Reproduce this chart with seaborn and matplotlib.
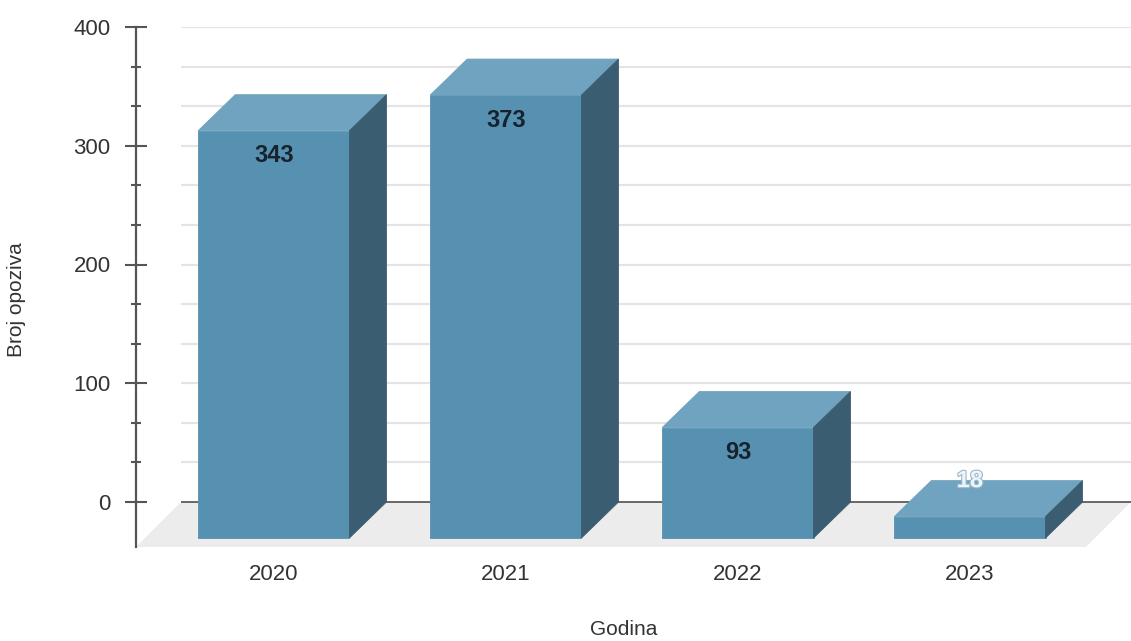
import matplotlib
matplotlib.use("Agg")
import matplotlib.pyplot as plt
from matplotlib.patches import Polygon
from matplotlib.ticker import FixedLocator
import matplotlib.patheffects as pe
import numpy as np
import seaborn as sns

# Recalls per year
years = ["2020", "2021", "2022", "2023"]
recalls = [343, 373, 93, 18]

sns.set_theme(style="white")
plt.rcParams["font.family"] = ["Liberation Sans", "DejaVu Sans"]

FRONT = "#5791b1"
TOP = "#6fa3bf"
SIDE = "#3b5d71"
FLOOR_C = "#ececec"
GRID_C = "#e4e4e4"
AXIS_C = "#555555"
TEXT_C = "#333333"

W, H, DPI = 1131, 641, 100
fig = plt.figure(figsize=(W / DPI, H / DPI), dpi=DPI)
ax_left, ax_right, ax_bottom, ax_top = 136, 1131, 547, 27
ax = fig.add_axes([ax_left / W, 1 - ax_bottom / H,
                   (ax_right - ax_left) / W, (ax_bottom - ax_top) / H])

# depth of the 3D effect, in pixels
FLOOR_D = 45
BAR_DX, BAR_DY = 37, 36
YMAX = 400

sns.barplot(x=years, y=recalls, color=FRONT, saturation=1, width=0.652,
            edgecolor=FRONT, linewidth=0.6, ax=ax, zorder=3)
bars = list(ax.patches)

n = len(years)
px_y = (ax_bottom - FLOOR_D - ax_top) / YMAX
ylo = -FLOOR_D / px_y
ax.set_ylim(ylo, YMAX)
ax.set_xlim(-0.594, n - 0.5 + FLOOR_D / 231.5)
x0l, x1l = ax.get_xlim()
px_x = (ax_right - ax_left) / (x1l - x0l)
fdx = FLOOR_D / px_x
ddx = BAR_DX / px_x
ddy = BAR_DY / px_y

# floor
ax.add_patch(Polygon([(x0l, ylo), (n - 0.5, ylo), (n - 0.5 + fdx, 0), (x0l + fdx, 0)],
                     closed=True, facecolor=FLOOR_C, edgecolor="none", zorder=1))

# back-wall grid lines
grid_vals = np.arange(0, YMAX + 1, 100 / 3)
ax.hlines(grid_vals[1:], x0l + fdx, x1l, color=GRID_C, lw=1.6, zorder=0.5)
ax.hlines([0], x0l + fdx, x1l, color="#5c5c5c", lw=1.3, zorder=1.5)

# extrude each bar into a box
for patch, v in zip(bars, recalls):
    xa = patch.get_x()
    w = patch.get_width()
    xb = xa + w
    patch.set_y(-ddy)
    patch.set_height(v)
    ax.add_patch(Polygon([(xa, v - ddy), (xb, v - ddy), (xb + ddx, v), (xa + ddx, v)],
                         closed=True, facecolor=TOP, edgecolor=TOP, lw=0.6, zorder=3))
    ax.add_patch(Polygon([(xb, -ddy), (xb, v - ddy), (xb + ddx, v), (xb + ddx, 0)],
                         closed=True, facecolor=SIDE, edgecolor=SIDE, lw=0.6, zorder=3.1))
    xc = xa + w / 2
    if v * px_y > 45:
        ax.annotate(str(v), xy=(xc, v - ddy), xytext=(0, -25 * 72 / DPI),
                    textcoords="offset points", ha="center", va="center",
                    fontsize=17, fontweight="bold", color="#17222d", zorder=5)
    else:
        ax.annotate(str(v), xy=(xc, v), xytext=(0, 0),
                    textcoords="offset points", ha="center", va="center",
                    fontsize=17, fontweight="bold", color="#eef4f8", zorder=5,
                    path_effects=[pe.withStroke(linewidth=1.6, foreground="#9ab8ca")])

# axes styling
for s in ("top", "right", "bottom"):
    ax.spines[s].set_visible(False)
ax.spines["left"].set_color(AXIS_C)
ax.spines["left"].set_linewidth(1.6)
ax.spines["left"].set_zorder(4)

ax.yaxis.set_major_locator(FixedLocator([0, 100, 200, 300, 400]))
ax.yaxis.set_minor_locator(FixedLocator([g for g in grid_vals if round(g) % 100 != 0]))
ax.tick_params(axis="y", which="major", left=True, direction="inout", length=16.5,
               width=1.5, color=AXIS_C, labelsize=16, labelcolor=TEXT_C, pad=10)
ax.tick_params(axis="y", which="minor", left=True, direction="inout", length=7,
               width=1.5, color=AXIS_C)
ax.tick_params(axis="x", which="both", bottom=False, length=0, labelsize=16,
               labelcolor=TEXT_C, pad=12)

ax.set_ylabel("Broj opoziva", fontsize=15, color=TEXT_C)
ax.set_xlabel("Godina", fontsize=15, color=TEXT_C)
ax.yaxis.set_label_coords((26 - ax_left) / (ax_right - ax_left),
                          (ax_bottom - 300) / (ax_bottom - ax_top))
ax.xaxis.set_label_coords((624 - ax_left) / (ax_right - ax_left),
                          (ax_bottom - 620) / (ax_bottom - ax_top))
ax.set_facecolor("white")
fig.patch.set_facecolor("white")

fig.savefig("out.png", dpi=DPI)
